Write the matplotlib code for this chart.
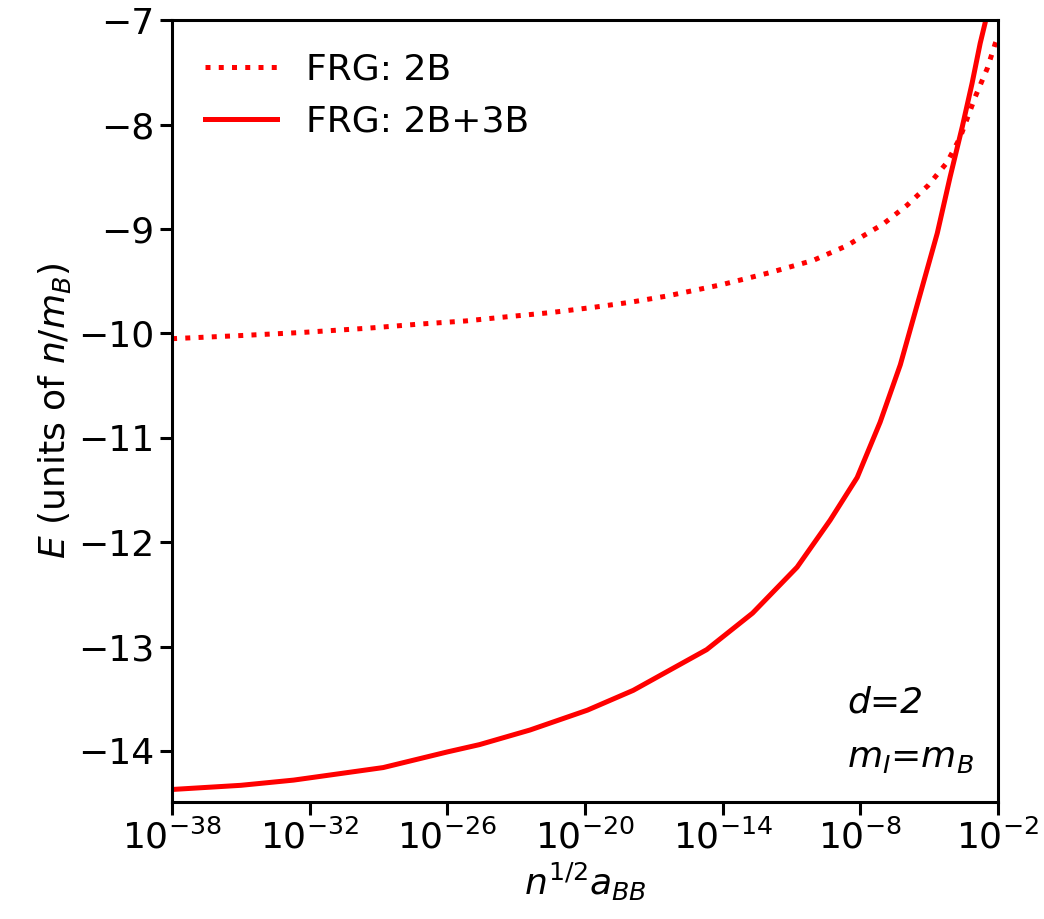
import numpy as np
import matplotlib.pyplot as plt

# log10 of n^{1/2} a_BB
logx_2b = np.array([-38, -35, -32.3, -29.5, -27.2, -25.2, -23.4, -21.5, -19.65, -18, -16.4,
                    -14, -12, -10.06, -8.6, -7.0, -5.96, -5.04, -4.22, -3.65, -2.99, -2.47, -2.12, -2.0])
E_2b = np.array([-10.05, -10.02, -9.99, -9.95, -9.91, -9.88, -9.84, -9.80, -9.75, -9.70, -9.64,
                 -9.53, -9.42, -9.30, -9.16, -8.95, -8.77, -8.58, -8.36, -8.12, -7.73, -7.46, -7.22, -7.15])

logx_3b = np.array([-38, -35, -32.7, -28.8, -26.0, -24.6, -22.4, -19.9, -17.9, -14.7, -12.7,
                    -10.76, -9.32, -8.14, -7.14, -6.26, -5.39, -4.65, -4.09, -3.56, -3.13, -2.78, -2.56, -2.5])
E_3b = np.array([-14.37, -14.33, -14.28, -14.16, -14.01, -13.94, -13.80, -13.61, -13.42, -13.03, -12.68,
                 -12.24, -11.79, -11.38, -10.85, -10.30, -9.62, -9.04, -8.50, -8.02, -7.60, -7.22, -7.02, -6.96])

plt.rcParams['font.size'] = 26
fig = plt.figure(figsize=(10.44, 9.19), dpi=100)
ax = fig.add_axes([0.1648, 0.1273, 0.7912, 0.8505])

ax.plot(10.0**logx_2b, E_2b, color='red', ls=':', lw=3.6, label='FRG: 2B')
ax.plot(10.0**logx_3b, E_3b, color='red', ls='-', lw=3.6, label='FRG: 2B+3B')

ax.set_xscale('log')
ax.set_xlim(1e-38, 1e-2)
ax.set_ylim(-14.49, -7)
ax.set_xticks([10.0**k for k in range(-38, 0, 6)])
ax.minorticks_off()
ax.set_yticks(np.arange(-14, -6, 1))

ax.set_xlabel(r'$n^{1/2}a_{BB}$')
ax.set_ylabel(r'$E$ (units of $n/m_B$)')

ax.tick_params(length=9, width=2.2)
for sp in ax.spines.values():
    sp.set_linewidth(2.2)

ax.text(0.817, 0.115, 'd=2', fontstyle='italic', transform=ax.transAxes)
ax.text(0.817, 0.045, r'$m_I$=$m_B$', transform=ax.transAxes)

ax.legend(loc='upper left', frameon=False)

fig.savefig('out.png')
